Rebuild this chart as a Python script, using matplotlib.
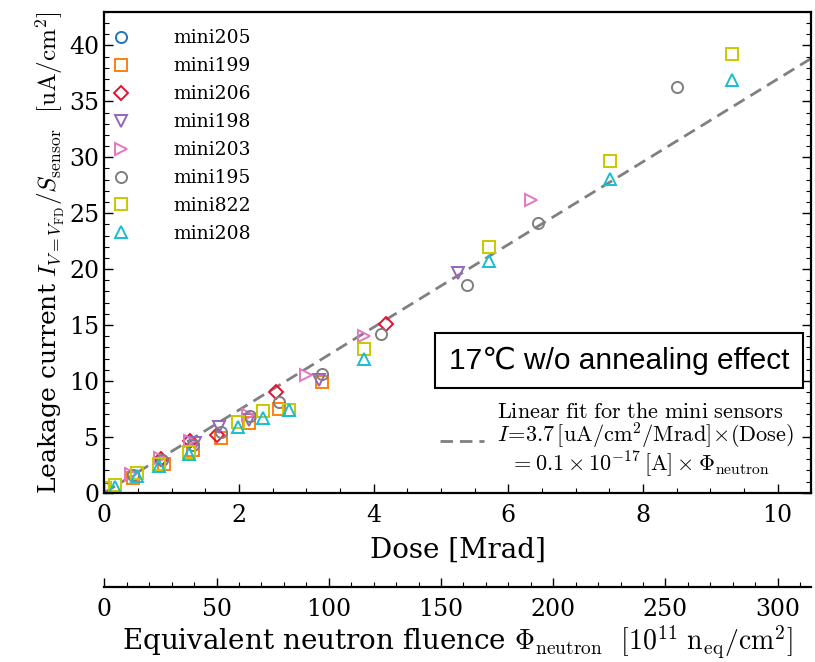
import matplotlib
matplotlib.use('Agg')
import matplotlib.pyplot as plt
import numpy as np

plt.rcParams['font.family'] = 'DejaVu Serif'
plt.rcParams['mathtext.fontset'] = 'cm'

# dose [Mrad] and leakage current [uA/cm2] per sensor
mini205_x = [0.01]
mini205_y = [0.40]
mini199_x = [0.43, 0.89, 1.32, 1.73, 2.15, 2.59, 3.24]
mini199_y = [1.28, 2.56, 3.81, 4.85, 6.25, 7.53, 9.86]
mini206_x = [0.84, 1.27, 1.67, 2.55, 4.19]
mini206_y = [3.00, 4.62, 5.12, 9.02, 15.06]
mini198_x = [1.34, 1.71, 2.15, 3.19, 5.25]
mini198_y = [4.47, 5.84, 6.49, 10.10, 19.68]
mini203_x = [0.40, 0.83, 1.27, 2.13, 2.99, 3.85, 6.33]
mini203_y = [1.67, 3.10, 4.60, 6.94, 10.50, 14.02, 26.20]
mini195_x = [0.42, 0.86, 1.31, 1.73, 2.17, 2.60, 3.24, 4.11, 5.39, 6.44, 8.51]
mini195_y = [1.58, 2.92, 4.26, 5.39, 6.88, 8.13, 10.66, 14.23, 18.55, 24.14, 36.25]
mini822_x = [0.01, 0.16, 0.48, 0.81, 1.26, 1.98, 2.35, 2.74, 3.86, 5.71, 7.51, 9.32]
mini822_y = [0.40, 0.72, 1.73, 2.56, 3.66, 6.34, 7.32, 7.44, 12.89, 21.96, 29.70, 39.25]
mini208_x = [0.16, 0.48, 0.81, 1.26, 1.98, 2.35, 2.74, 3.86, 5.71, 7.51, 9.32]
mini208_y = [0.54, 1.49, 2.38, 3.46, 5.84, 6.64, 7.38, 11.94, 20.69, 28.07, 36.90]

names = ['mini205', 'mini199', 'mini206', 'mini198', 'mini203', 'mini195', 'mini822', 'mini208']
xs = [mini205_x, mini199_x, mini206_x, mini198_x, mini203_x, mini195_x, mini822_x, mini208_x]
ys = [mini205_y, mini199_y, mini206_y, mini198_y, mini203_y, mini195_y, mini822_y, mini208_y]
markers = ['o', 's', 'D', 'v', '>', 'o', 's', '^']
colors = ['#1f77b4', '#ff7f0e', '#e8112d', '#9467bd', '#e377c2', '#7f7f7f', '#c8c800', '#17becf']

fit_slope = 3.7        # uA/cm2/Mrad
fluence_per_mrad = 30  # 1e11 neq/cm2 per Mrad

fig = plt.figure(figsize=(8.15, 6.62), dpi=100)
ax = fig.add_axes([0.128, 0.2557, 0.8675, 0.7263])

handles = []
for x, y, m, c, n in zip(xs, ys, markers, colors, names):
    ms = 7 if m == 'D' else 8
    h, = ax.plot(x, y, linestyle='none', marker=m, markersize=ms, markerfacecolor='none',
                 markeredgecolor=c, markeredgewidth=1.4, label=n)
    handles.append(h)

dose = np.array([0, 10.5])
fit_line, = ax.plot(dose, fit_slope * dose, linestyle='--', color='#808080', linewidth=2,
                    dashes=(4.5, 2.5), zorder=1)

ax.set_xlim(0, 10.5)
ax.set_ylim(0, 43)
ax.set_xticks(np.arange(0, 11, 2))
ax.set_xticks(np.arange(0, 10.51, 0.5), minor=True)
ax.set_yticks(np.arange(0, 41, 5))
ax.set_yticks(np.arange(0, 43.1, 1), minor=True)
ax.tick_params(which='both', direction='in', left=True, right=True, top=False, bottom=True,
               labelsize=17)
ax.tick_params(axis='x', which='major', pad=8)
ax.tick_params(which='major', length=6.5, width=1)
ax.tick_params(which='minor', length=3.5, width=0.8)
for s in ax.spines.values():
    s.set_linewidth(1.6)

ax.set_xlabel('Dose [Mrad]', fontsize=20, labelpad=7)
ax.set_ylabel(r'Leakage current $I_{V=V_{\rm FD}}/S_{\rm sensor}$  $[\rm uA/cm^2]$',
              fontsize=18, labelpad=2)

leg1 = ax.legend(handles=handles, loc='upper left', bbox_to_anchor=(0, 0.987),
                 frameon=False, fontsize=13.5, handlelength=0.6, handletextpad=2.5,
                 labelspacing=0.53, borderaxespad=0.2, borderpad=0.4)
ax.add_artist(leg1)

fit_label = (r'$\rm Linear\ fit\ for\ the\ mini\ sensors$' + '\n'
             r'$I\!=\!3.7\,[\rm uA/cm^2/Mrad]\!\times\!(\rm Dose)$' + '\n'
             r'$\ \ = 0.1\times10^{-17}\,[\rm A]\times\Phi_{\rm neutron}$')
leg2 = ax.legend(handles=[fit_line], labels=[fit_label], loc='lower right',
                 bbox_to_anchor=(0.995, 0), frameon=False,
                 fontsize=16, handlelength=2.0, handletextpad=0.6, borderaxespad=0.2)
for t in leg2.get_texts():
    t.set_linespacing(0.92)

ax.text(0.728, 0.275, '17\u2103 w/o annealing effect', transform=ax.transAxes,
        ha='center', va='center', fontsize=21.5, family=['Liberation Sans', 'DejaVu Sans'],
        bbox=dict(boxstyle='square,pad=0.45', facecolor='white', edgecolor='black', linewidth=1.5))

sec = ax.secondary_xaxis(-0.196, functions=(lambda d: d * fluence_per_mrad,
                                             lambda f: f / fluence_per_mrad))
sec.set_xticks(np.arange(0, 301, 50))
sec.set_xticks(np.arange(0, 316, 10), minor=True)
sec.tick_params(which='both', direction='in', labelsize=17)
sec.tick_params(which='major', length=6.5, width=1, pad=8)
sec.tick_params(which='minor', length=3.5, width=0.8)
sec.spines['bottom'].set_linewidth(1.6)
sec.set_xlabel(r'Equivalent neutron fluence $\Phi_{\rm neutron}$  $[10^{11}\ \rm n_{eq}/cm^2]$',
               fontsize=20, labelpad=2)

fig.savefig('out.png', dpi=100)
